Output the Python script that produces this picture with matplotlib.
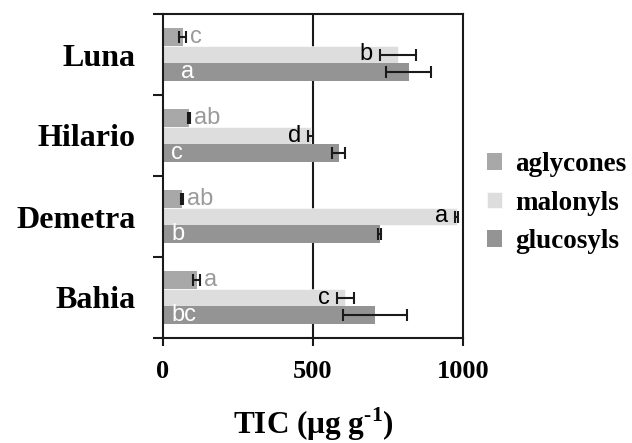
import matplotlib
matplotlib.use("Agg")
import matplotlib.pyplot as plt
import numpy as np

# Soybean cultivars, listed bottom to top on the y axis
cultivars = ["Bahia", "Demetra", "Hilario", "Luna"]
series = ["aglycones", "malonyls", "glucosyls"]

# Isoflavone content (µg g-1) and standard deviations per cultivar
aglycones = [112, 62, 87, 65]
aglycones_err = [12, 3, 3, 12]
malonyls = [608, 979, 492, 784]
malonyls_err = [29, 4, 8, 61]
glucosyls = [707, 723, 585, 819]
glucosyls_err = [107, 5, 22, 74]

# Significance letters
aglycones_letters = ["a", "ab", "ab", "c"]
malonyls_letters = ["c", "a", "d", "b"]
glucosyls_letters = ["bc", "b", "c", "a"]

xticks = [0, 500, 1000]

plt.rcParams["mathtext.fontset"] = "custom"
plt.rcParams["mathtext.rm"] = "Liberation Serif:bold"
plt.rcParams["mathtext.bf"] = "Liberation Serif:bold"

colors = {"aglycones": "#a8a8a8", "malonyls": "#dddddd", "glucosyls": "#949494"}
serif_bold = dict(family="Liberation Serif", weight="bold")
ink = "#1a1a1a"

fig = plt.figure(figsize=(6.32, 4.43), dpi=100)
ax = fig.add_axes([163 / 632, 1 - 338 / 443, 300 / 632, 324 / 443])

y = np.arange(len(cultivars))
h = 0.216
err_kw = dict(ecolor=ink, elinewidth=1.5, capsize=4.5, capthick=1.5)

b_ag = ax.barh(y + h, aglycones, height=h, color=colors["aglycones"],
               xerr=aglycones_err, error_kw=err_kw, label="aglycones")
b_ma = ax.barh(y, malonyls, height=h, color=colors["malonyls"],
               edgecolor="white", linewidth=0.4,
               xerr=malonyls_err, error_kw=err_kw, label="malonyls")
b_gl = ax.barh(y - h, glucosyls, height=h, color=colors["glucosyls"],
               xerr=glucosyls_err, error_kw=err_kw, label="glucosyls")

letter_font = dict(family="Liberation Sans", fontsize=17)
for i in range(len(cultivars)):
    # aglycones: grey letter after the error bar
    ax.annotate(aglycones_letters[i], (aglycones[i] + aglycones_err[i], y[i] + h),
                xytext=(3, 0), textcoords="offset points", ha="left", va="center",
                color="#9a9a9a", **letter_font)
    # malonyls: black letter just before the error bar
    ax.annotate(malonyls_letters[i], (malonyls[i] - malonyls_err[i], y[i]),
                xytext=(-5, 0), textcoords="offset points", ha="right", va="center",
                color="black", **letter_font)
    # glucosyls: white letter inside the bar
    ax.annotate(glucosyls_letters[i], (0, y[i] - h),
                xytext=(6 if glucosyls_letters[i] != "a" else 13, 0),
                textcoords="offset points", ha="left", va="center",
                color="white", **letter_font)

# vertical reference line at 500
ax.axvline(500, color=ink, lw=1.5, zorder=0.5)

ax.set_xlim(0, 1000)
ax.set_ylim(-0.5, len(cultivars) - 0.5)

ax.set_xticks(xticks)
ax.set_xticklabels([str(t) for t in xticks], fontsize=19, **serif_bold)
ax.set_yticks(y)
ax.set_yticklabels(cultivars, fontsize=23, **serif_bold)
ax.set_yticks(np.arange(len(cultivars) + 1) - 0.5, minor=True)

ax.tick_params(axis="y", which="major", length=0, pad=20)
ax.tick_params(axis="y", which="minor", length=7, width=1.5, color=ink, direction="out")
ax.tick_params(axis="x", length=6, width=1.5, color=ink, direction="out", pad=10)

for s in ax.spines.values():
    s.set_linewidth(1.5)
    s.set_color(ink)

ax.set_xlabel(r"TIC (μg g$^{\text{-1}}$)", fontsize=22.5, labelpad=16, **serif_bold)

fig.legend(handles=[b_ag, b_ma, b_gl], labels=series, loc="center left",
           bbox_to_anchor=(487 / 632, 1 - 203 / 443), frameon=False,
           prop=dict(family="Liberation Serif", weight="bold", size=19.5),
           handlelength=0.55, handleheight=0.55, handletextpad=0.5,
           labelspacing=0.5, borderpad=0, borderaxespad=0)

fig.savefig("out.png", dpi=100)
